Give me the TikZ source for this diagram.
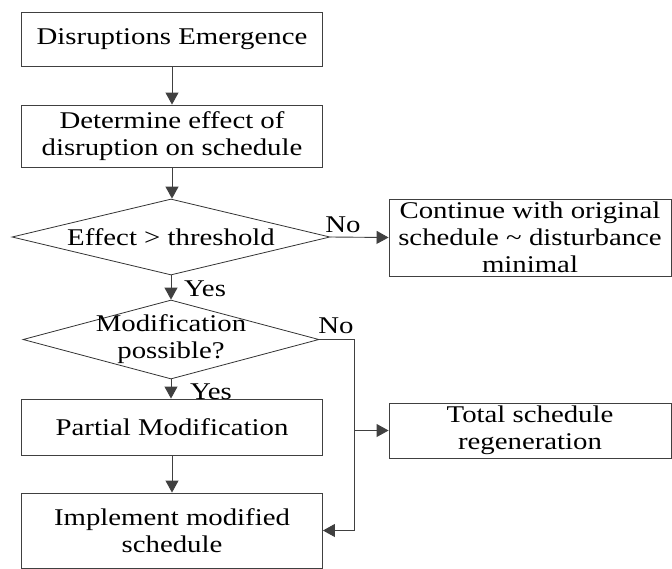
\documentclass[tikz,border=0pt]{standalone}
\usepackage{fontspec}
\setmainfont[FakeStretch=1.2]{Liberation Serif}
\usetikzlibrary{shapes.geometric,arrows.meta}

\begin{document}
\begin{tikzpicture}[x=1pt,y=-1pt,font=\fontsize{24}{27}\selectfont,
  box/.style={draw=black!75,line width=0.9pt,minimum width=301pt,align=center,inner sep=0pt},
  sidebox/.style={draw=black!75,line width=0.9pt,minimum width=282pt,align=center,inner sep=0pt},
  decision/.style={draw=black!80,line width=0.8pt,diamond,inner sep=0pt},
  arr/.style={draw=black!75,line width=0.9pt,-{Triangle[length=12pt,width=13pt]}},
  lbl/.style={inner sep=0pt}]
\useasboundingbox (0,0) rectangle (672,568);
\node[box,minimum height=54pt] (emerge) at (172,39) {Disruptions Emergence};
\node[box,minimum height=62pt] (effect) at (172,136) {Determine effect of\\disruption on schedule};
\node[decision,minimum width=318pt,minimum height=76pt] (thresh) at (171,237) {};
\node[lbl] (threshtxt) at (thresh) {Effect > threshold};
\node[sidebox,minimum height=77pt] (keep) at (530,237.5) {Continue with original\\schedule \textasciitilde{} disturbance\\minimal};
\node[decision,minimum width=296pt,minimum height=79pt] (possible) at (171,339.5) {};
\node[lbl,align=center] (possibletxt) at (possible) {Modification\\possible?};
\node[box,minimum height=56pt] (partial) at (172,427) {Partial Modification};
\node[box,minimum height=75pt] (implement) at (172,530.5) {Implement modified\\schedule};
\node[sidebox,minimum height=55pt] (regen) at (530,430.5) {Total schedule\\regeneration};
\coordinate (corner) at (354,339.5);
\coordinate (branch) at (corner |- regen.west);
\draw[arr] (emerge) -- (effect);
\draw[arr] (effect.south) -- (effect.south |- thresh.north);
\draw[arr] (thresh.east) -- (keep.west);
\draw[arr] (thresh.south) -- (possible.north);
\draw[arr] (possible.south) -- (partial.north -| possible.south);
\draw[arr] (partial) -- (implement);
\draw[arr] (possible.east) -- (corner) |- (implement.east);
\draw[arr] (branch) -- (regen.west);
\node[lbl] (no1) at (343,225) {No};
\node[lbl] (yes1) at (205,289) {Yes};
\node[lbl] (no2) at (336,326) {No};
\node[lbl] (yes2) at (211,392) {Yes};
\end{tikzpicture}
\end{document}
